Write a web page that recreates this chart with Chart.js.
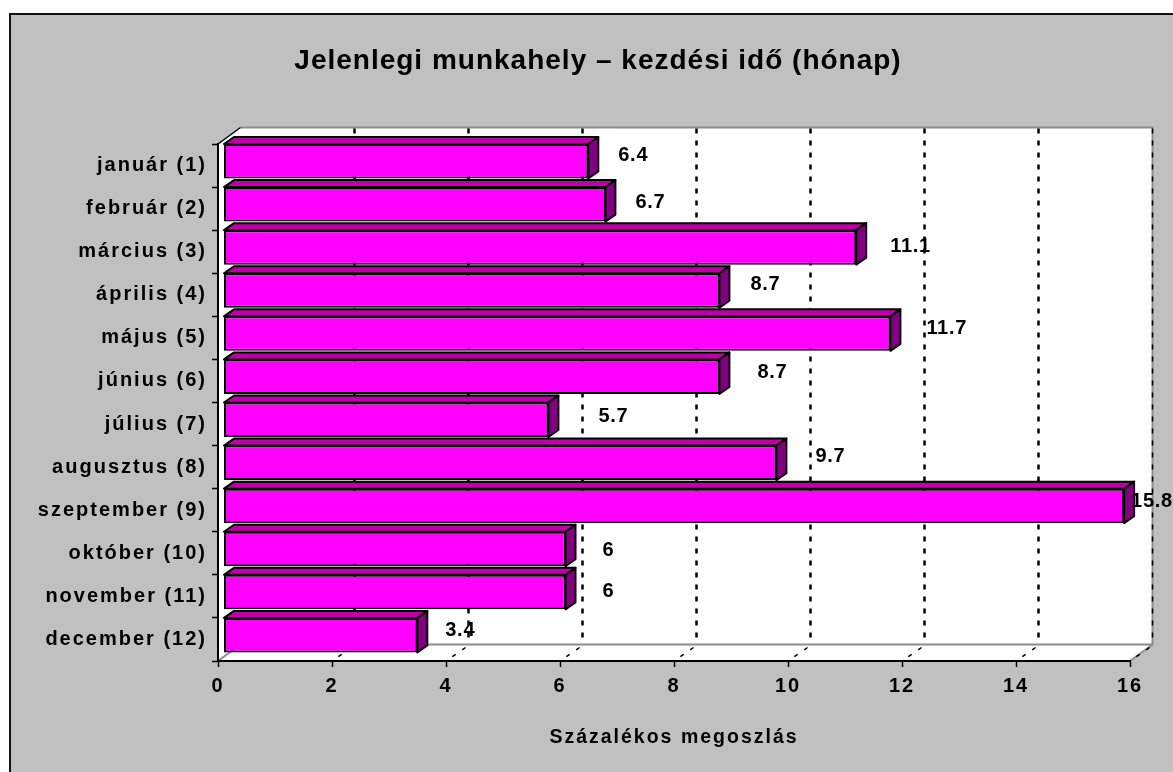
<!DOCTYPE html>
<html>
<head>
<meta charset="utf-8">
<title>Jelenlegi munkahely</title>
<script src="https://cdn.jsdelivr.net/npm/chart.js@4"></script>
<style>
    html, body { margin: 0; padding: 0; background: #ffffff; overflow: hidden; }
    canvas { display: block; }
</style>
</head>
<body>
<canvas id="chart" width="1173" height="772"></canvas>
<script>
const months = ['január (1)', 'február (2)', 'március (3)', 'április (4)', 'május (5)', 'június (6)',
    'július (7)', 'augusztus (8)', 'szeptember (9)', 'október (10)', 'november (11)', 'december (12)'];
const shares = [6.4, 6.7, 11.1, 8.7, 11.7, 8.7, 5.7, 9.7, 15.8, 6, 6, 3.4];
const shareLabels = ['6.4', '6.7', '11.1', '8.7', '11.7', '8.7', '5.7', '9.7', '15.8', '6', '6', '3.4'];
const xTicks = [0, 2, 4, 6, 8, 10, 12, 14, 16];

// the labels sit unevenly in the original, so each one gets its own nudge
const labelNudgeX = [30, 30, 34, 31, 36, 38, 50, 39, 7, 37, 37, 28];
const labelNudgeY = [-6, -2, -1, -6, -5, -4, -3, -6, -4, 1, -1, -5];

const FONT = '"Liberation Sans", Arial, sans-serif';
const WALL_DX = 22.5, WALL_DY = -16.5;   // back wall offset
const BAR_DX = 5.5, BAR_DY = -4.3;       // bar front offset from the axes
const FACE_DX = 10, FACE_DY = -7;        // bar depth
const TITLE_SHIFT = 18;                  // title is centred on the panel, not on the plot

function poly(ctx, pts) {
    ctx.beginPath();
    pts.forEach((p, i) => i ? ctx.lineTo(p[0], p[1]) : ctx.moveTo(p[0], p[1]));
    ctx.closePath();
}

const walls = {
    id: 'walls',
    afterInit(chart) {
        // the original has wide tracking, tighter on the title than on the axes
        const block = chart.titleBlock;
        const drawTitle = block.draw;
        block.draw = function (area) {
            const ctx = chart.ctx;
            ctx.save();
            ctx.translate(TITLE_SHIFT, 0);
            ctx.letterSpacing = '1px';
            drawTitle.call(block, area);
            ctx.restore();
        };
    },
    beforeDraw(chart) {
        const { ctx, chartArea: a, scales: { x } } = chart;
        ctx.save();
        // panel and frame
        ctx.fillStyle = '#c0c0c0';
        ctx.fillRect(10, 14, chart.width, chart.height);
        ctx.fillStyle = '#111111';
        ctx.fillRect(9, 13, chart.width, 2);
        ctx.fillRect(9, 13, 2, chart.height);

        // back wall, side wall, floor
        ctx.fillStyle = '#ffffff';
        poly(ctx, [[a.left, a.top], [a.left + WALL_DX, a.top + WALL_DY], [a.right + WALL_DX, a.top + WALL_DY],
            [a.right + WALL_DX, a.bottom + WALL_DY], [a.right, a.bottom], [a.left, a.bottom]]);
        ctx.fill();

        // grey edges of the box
        ctx.strokeStyle = '#8c8c8c';
        ctx.lineWidth = 2;
        ctx.beginPath();
        ctx.moveTo(a.left + WALL_DX, a.top + WALL_DY);
        ctx.lineTo(a.right + WALL_DX, a.top + WALL_DY);
        ctx.lineTo(a.right + WALL_DX, a.bottom + WALL_DY);
        ctx.lineTo(a.left + WALL_DX, a.bottom + WALL_DY);
        ctx.lineTo(a.left, a.bottom);
        ctx.moveTo(a.right + WALL_DX, a.bottom + WALL_DY);
        ctx.lineTo(a.right, a.bottom);
        ctx.stroke();

        // dotted grid on the wall and the floor
        ctx.strokeStyle = '#000000';
        xTicks.forEach(v => {
            if (v === 0) return;
            const px = x.getPixelForValue(v);
            ctx.beginPath();
            ctx.lineWidth = v === 16 ? 1.5 : 2.5;
            ctx.setLineDash([5, 7]);
            ctx.moveTo(px + WALL_DX, a.top + WALL_DY + 1);
            ctx.lineTo(px + WALL_DX, a.bottom + WALL_DY);
            ctx.stroke();
            ctx.beginPath();
            ctx.lineWidth = 1.5;
            ctx.setLineDash([4, 8]);
            ctx.moveTo(px + WALL_DX - 3, a.bottom + WALL_DY + 3);
            ctx.lineTo(px + 3, a.bottom - 2);
            ctx.stroke();
        });
        ctx.setLineDash([]);

        // dark corner at the top of the side wall
        ctx.strokeStyle = '#000000';
        ctx.lineWidth = 1.5;
        ctx.beginPath();
        ctx.moveTo(a.left, a.top);
        ctx.lineTo(a.left + WALL_DX, a.top + WALL_DY);
        ctx.stroke();
        ctx.restore();
        ctx.letterSpacing = '2px';
    },
    beforeDatasetDraw(chart) {
        const ctx = chart.ctx;
        ctx.save();
        ctx.translate(BAR_DX, BAR_DY);
        // top and side faces, read from the bar elements
        chart.getDatasetMeta(0).data.forEach(bar => {
            const top = bar.y - bar.height / 2, bottom = bar.y + bar.height / 2;
            ctx.lineWidth = 2;
            ctx.strokeStyle = '#000000';
            ctx.lineJoin = 'round';
            ctx.fillStyle = '#bf00a8';
            poly(ctx, [[bar.base, top], [bar.base + FACE_DX, top + FACE_DY], [bar.x + FACE_DX, top + FACE_DY], [bar.x, top]]);
            ctx.fill();
            ctx.stroke();
            ctx.fillStyle = '#800080';
            poly(ctx, [[bar.x, top], [bar.x + FACE_DX, top + FACE_DY], [bar.x + FACE_DX, bottom + FACE_DY], [bar.x, bottom]]);
            ctx.fill();
            ctx.stroke();
        });
    },
    afterDatasetDraw(chart) {
        chart.ctx.restore();
    },
    afterDatasetsDraw(chart) {
        const ctx = chart.ctx;
        ctx.save();
        ctx.font = 'bold 20px ' + FONT;
        ctx.letterSpacing = '0.7px';
        ctx.fillStyle = '#000000';
        ctx.textAlign = 'left';
        ctx.textBaseline = 'middle';
        chart.getDatasetMeta(0).data.forEach((bar, i) => {
            ctx.fillText(shareLabels[i], bar.x + BAR_DX + labelNudgeX[i], bar.y + BAR_DY + labelNudgeY[i]);
        });
        ctx.restore();
    }
};

new Chart(document.getElementById('chart'), {
    type: 'bar',
    data: {
        labels: months,
        datasets: [{
            data: shares,
            backgroundColor: '#ff00ff',
            borderColor: '#000000',
            borderWidth: 2,
            borderSkipped: false,
            barPercentage: 0.8,
            categoryPercentage: 1
        }]
    },
    plugins: [walls],
    options: {
        indexAxis: 'y',
        responsive: false,
        animation: false,
        layout: { padding: { left: 30, right: 43, top: 40, bottom: 0 } },
        plugins: {
            legend: { display: false },
            tooltip: { enabled: false },
            title: {
                display: true,
                text: 'Jelenlegi munkahely – kezdési idő (hónap)',
                color: '#000000',
                font: { family: FONT, size: 28, weight: 'bold', lineHeight: 1 },
                padding: { top: 7, bottom: 69 }
            }
        },
        scales: {
            x: {
                min: 0,
                max: 16,
                afterFit: s => { s.height = 111; },
                afterBuildTicks: s => { s.ticks = xTicks.map(v => ({ value: v })); },
                border: { color: '#000000', width: 2 },
                grid: { drawOnChartArea: false, color: '#000000', tickLength: 6, tickWidth: 1.5 },
                ticks: { color: '#000000', maxRotation: 0, padding: 7, font: { family: FONT, size: 20, weight: 'bold' } },
                title: {
                    display: true,
                    text: 'Százalékos megoszlás',
                    color: '#000000',
                    padding: { top: 0, bottom: 23 },
                    font: { family: FONT, size: 19.5, weight: 'bold' }
                }
            },
            y: {
                afterFit: s => { s.width = 188; },
                border: { color: '#000000', width: 2 },
                grid: { drawOnChartArea: false, color: '#000000', tickLength: 6, tickWidth: 1.5 },
                ticks: { color: '#000000', padding: 5, font: { family: FONT, size: 20, weight: 'bold' } }
            }
        }
    }
});
</script>
</body>
</html>
